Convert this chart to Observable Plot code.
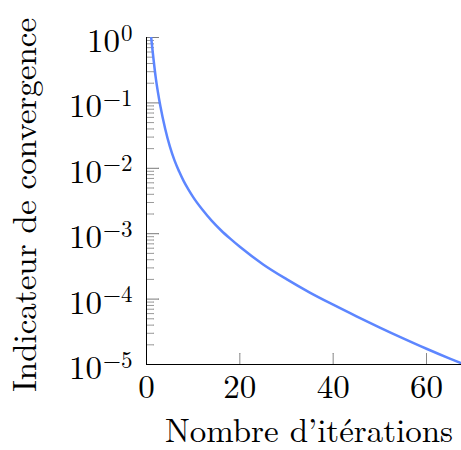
<!DOCTYPE html>
<html>
<head>
<meta charset="utf-8">
<script src="https://cdn.jsdelivr.net/npm/d3@7"></script>
<script src="https://cdn.jsdelivr.net/npm/@observablehq/plot@0.6"></script>
<style>
  html, body { margin: 0; padding: 0; background: #fff; overflow: hidden; }
  #chart svg { display: block; }
</style>
</head>
<body>
<div id="chart"></div>
<script>
// Data
const iterations = [1, 2, 3, 4, 5, 6, 7, 8, 9, 10, 12, 14, 16, 18, 20, 25, 30, 35, 40, 45, 50, 55, 60, 65, 68];
const indicator = [1, 0.237, 0.0871, 0.0403, 0.0216, 0.0132, 8.91e-3, 6.31e-3, 4.73e-3, 3.63e-3,
                   2.32e-3, 1.57e-3, 1.12e-3, 8.32e-4, 6.31e-4, 3.39e-4, 2.02e-4, 1.26e-4, 8.22e-5,
                   5.46e-5, 3.67e-5, 2.51e-5, 1.74e-5, 1.23e-5, 1.01e-5];

const xTicks = [0, 20, 40, 60];
const yMajorTicks = [1e-5, 1e-4, 1e-3, 1e-2, 1e-1, 1];
const yExponents = ["−5", "−4", "−3", "−2", "−1", "0"];
const xDomain = [0, 67.5];
const yDomain = [1e-5, 1];
const xTitle = "Nombre d’itérations";
const yTitle = "Indicateur de convergence";

const yMinorTicks = d3.scaleLog().domain(yDomain).ticks().filter(v => !yMajorTicks.some(m => Math.abs(m - v) / m < 1e-6));
const data = iterations.map((x, i) => ({x, y: indicator[i]}));

const font = "'Latin Modern Roman', 'CMU Serif', 'Liberation Serif', serif";

const svg = Plot.plot({
  width: 461,
  height: 450,
  marginLeft: 146,
  marginRight: 0,
  marginTop: 37,
  marginBottom: 86,
  style: {fontFamily: font, fontSize: "33px", background: "#fff", color: "#000", overflow: "visible"},
  x: {domain: xDomain},
  y: {type: "log", domain: yDomain},
  marks: [
    // inward ticks
    Plot.vector(yMinorTicks, {y: d => d, frameAnchor: "left", length: 7, rotate: 90, anchor: "start", r: 0, stroke: "#9a9a9a", strokeWidth: 1}),
    Plot.vector(yMajorTicks, {y: d => d, frameAnchor: "left", length: 12, rotate: 90, anchor: "start", r: 0, stroke: "#7a7a7a", strokeWidth: 1}),
    Plot.vector(xTicks, {x: d => d, frameAnchor: "bottom", length: 11, rotate: 0, anchor: "start", r: 0, stroke: "#888", strokeWidth: 1}),
    // data line
    Plot.line(data, {x: "x", y: "y", stroke: "#5d86ff", strokeWidth: 2.5, curve: "monotone-x", clip: true}),
    // axis lines
    Plot.ruleX([xDomain[0]], {stroke: "#000", strokeWidth: 1}),
    Plot.ruleY([yDomain[0]], {stroke: "#000", strokeWidth: 1}),
    // tick labels
    Plot.axisX({ticks: xTicks, tickSize: 0, tickPadding: 10, tickFormat: d => String(d), label: null}),
    Plot.axisY({ticks: yMajorTicks, tickSize: 0, tickPadding: 14, tickFormat: d => yExponents[yMajorTicks.indexOf(d)], label: null, dy: 4}),
    // titles
    Plot.text([xTitle], {frameAnchor: "bottom", text: d => d, dx: 5, dy: 77, lineAnchor: "bottom", textAnchor: "middle"}),
    Plot.text([yTitle], {frameAnchor: "left", text: d => d, rotate: -90, dx: -111, dy: 4, lineAnchor: "bottom", textAnchor: "middle"})
  ]
});

// Turn exponent labels into 10^k with a real superscript
d3.select(svg).selectAll('g[aria-label="y-axis tick label"] text').each(function() {
  const t = d3.select(this);
  const exp = t.text();
  t.text("10");
  t.append("tspan").attr("font-size", "23px").attr("dy", "-0.5em").attr("dx", "1").text(exp);
});

document.getElementById("chart").appendChild(svg);
</script>
</body>
</html>
